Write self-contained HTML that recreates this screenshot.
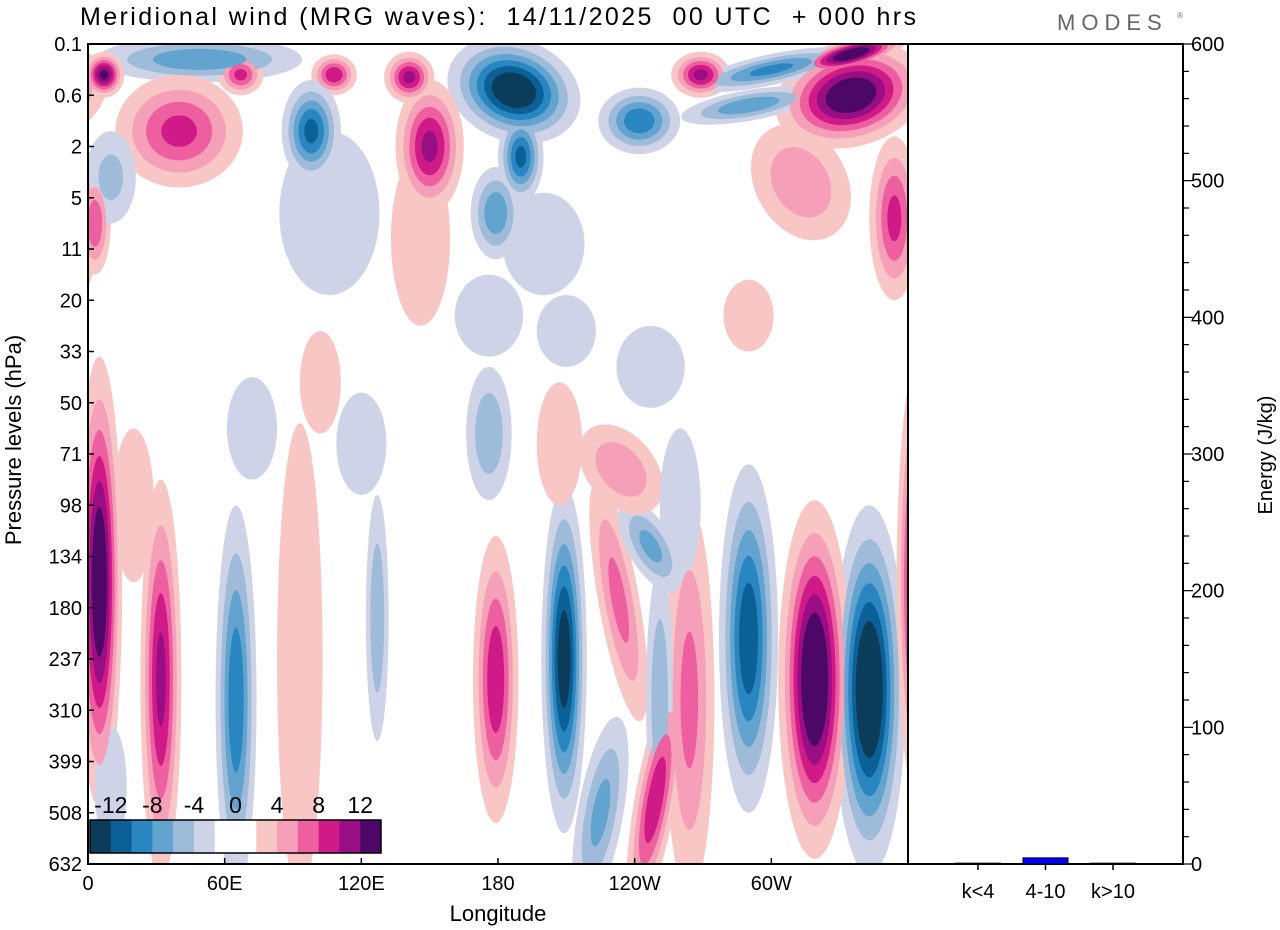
<!DOCTYPE html>
<html><head><meta charset="utf-8"><style>
body{margin:0;background:#fff;width:1280px;height:930px;overflow:hidden;font-family:"Liberation Sans",sans-serif}
svg{display:block}
</style></head><body>
<svg id="c" width="1280" height="930" font-family="Liberation Sans, sans-serif">
<text x="80" y="25" font-size="25" textLength="836" lengthAdjust="spacing" style="white-space:pre" xml:space="preserve">Meridional wind (MRG waves):  14/11/2025  00 UTC  + 000 hrs</text>
<text x="1057" y="30" font-size="22" fill="#666" letter-spacing="6">MODES</text>
<text x="1177" y="18" font-size="8" fill="#666">®</text>
<defs><clipPath id="pc"><rect x="88" y="44" width="820" height="820"/></clipPath></defs>
<g id="field" clip-path="url(#pc)"></g>
<g id="axes"></g>
</svg>
<script>
// blob data: longitude (deg), level index (0=0.1hPa .. 16=632hPa), half-width deg, half-height levels, amplitude (m/s), tilt deg
const blobLon=[343,319,290,264,249,225,233,209,179,247,251,5,32,65,93,127,
 187,49,7,67,108,141,269,335,242,98,40,150,190,179,313,354,3,10,106,146,
 176,210,247,290,102,72,176,234,207,260,20,335,300,290,200,120,10];
const blobLev=[12.6,12.4,11.6,12.8,14.75,15,10.85,12,12.4,9.8,12.8,10.5,12.4,12.8,12,11.2,
 0.9,0.3,0.6,0.6,0.6,0.65,0.6,1.0,1.5,1.7,1.7,2.0,2.2,3.3,2.7,3.4,3.5,2.6,3.3,3.8,
 5.3,5.6,6.3,5.3,6.6,7.5,7.6,8.3,7.8,9.0,9.0,0.2,0.5,1.2,3.9,7.8,14.5];
const blobW=[16,16,13,11,9,10,9,10,10,10,6,10,9,9,10,5,
 30,45,9,10,10,11,13,34,18,13,28,15,10,11,20,11,7,11,22,13,
 15,13,15,11,9,11,10,15,10,9,9,25,35,30,18,11,7];
const blobH=[3.6,3.5,3.4,3.8,2.3,1.9,2.4,3.4,2.8,1.0,2.6,4.4,3.9,3.8,4.6,2.4,
 1.0,0.45,0.45,0.4,0.4,0.5,0.45,1.0,0.65,1.0,1.1,1.3,0.9,0.9,1.2,1.6,1.0,0.9,1.6,1.7,
 0.8,0.7,0.8,0.7,1.0,1.0,1.3,1.0,1.2,1.5,1.5,0.3,0.3,0.3,1.0,1.0,1.2];
const blobAmp=[-16,16,-12,7,10,-7,7,-14,10,-7,-6,15,11,-10,3.5,-6,
 -15,-8,13,9,10,11,11,15,-10,-11,9,11,-11,-8,6,9,8,-5,-3.5,3.5,
 -3,-3,-3,3,3,-3,-6,6,3,-3,3,15,-9,-8,-3,-3,-3];
const blobTilt=[0,0,0,0,10,10,-10,0,0,-30,0,0,0,0,0,0,
 20,0,0,0,0,0,0,-15,0,0,0,0,0,0,-30,0,0,0,0,0,
 0,0,0,0,0,0,0,-40,0,0,0,-15,-12,-10,0,0,0];
const levels=[2,4,6,8,10,12];
const posCol=["#f9c6c6","#f59fb9","#ee5fa0","#cf1a88","#9a0e85","#4d0766"];
const negCol=["#cfd3e8","#9fbbda","#62a3cf","#2a86c0","#0b6197","#0b3d5a"];
const cbCols=["#0b3d5a","#0b6197","#2a86c0","#62a3cf","#9fbbda","#cfd3e8","#fff","#fff","#f9c6c6","#f59fb9","#ee5fa0","#cf1a88","#9a0e85","#4d0766"];
const cbLabels=["-12","-8","-4","0","4","8","12"];
const pLabels=["0.1","0.6","2","5","11","20","33","50","71","98","134","180","237","310","399","508","632"];
const lonLabels=["0","60E","120E","180","120W","60W"];
const lonTicks=[0,60,120,180,240,300];
const energyCats=["k<4","4-10","k>10"];
const energyVals=[0.6,4.5,0.6];
const energyTicks=[0,100,200,300,400,500,600];

const NS="http://www.w3.org/2000/svg";
const X0=88,Y0=44,PW=820,PH=820;
const xLon=l=>X0+l*PW/360;
const yLev=i=>Y0+i*PH/16;
const pxPerDeg=PW/360,pxPerLev=PH/16;
const E0=908,E1=1183;
const yE=v=>864-v*820/600;
function mk(tag,attrs,parent){const e=document.createElementNS(NS,tag);for(const k in attrs)e.setAttribute(k,attrs[k]);parent.appendChild(e);return e;}
const field=document.getElementById('field');
const axes=document.getElementById('axes');
mk('rect',{x:X0,y:Y0,width:PW,height:PH,fill:'#fff'},field);
levels.forEach((c,li)=>{
  blobLon.forEach((lon,b)=>{
    const A=blobAmp[b],a=Math.abs(A);
    if(a<=c) return;
    const f=Math.sqrt(Math.log(a/c)/Math.log(a/2));
    const cx=xLon(lon),cy=yLev(blobLev[b]);
    const rx=blobW[b]*pxPerDeg*f,ry=blobH[b]*pxPerLev*f;
    const e=mk('ellipse',{cx:cx,cy:cy,rx:rx,ry:ry,fill:A>0?posCol[li]:negCol[li],transform:'rotate('+blobTilt[b]+' '+cx+' '+cy+')'},field);
    
    
    if(lon>300){const e2=e.cloneNode();e2.setAttribute('cx',cx-PW);e2.setAttribute('transform','rotate('+blobTilt[b]+' '+(cx-PW)+' '+cy+')');field.appendChild(e2);}
    if(lon<40){const e2=e.cloneNode();e2.setAttribute('cx',cx+PW);e2.setAttribute('transform','rotate('+blobTilt[b]+' '+(cx+PW)+' '+cy+')');field.appendChild(e2);}
  });
});
let r0=mk('rect',{x:X0,y:Y0,width:PW,height:PH,fill:'none',stroke:'#000','stroke-width':2},axes);

r0=mk('rect',{x:E0,y:Y0,width:E1-E0,height:PH,fill:'none',stroke:'#000','stroke-width':2},axes);

pLabels.forEach((t,i)=>{
  const y=yLev(i);
  mk('line',{x1:X0,x2:X0+6,y1:y,y2:y,stroke:'#000','stroke-width':1.5},axes);
  const tx=mk('text',{x:X0-6,y:y+7,'font-size':20,'text-anchor':'end'},axes);tx.textContent=t;
  
  
});
lonTicks.forEach((l,i)=>{
  const x=xLon(l);
  mk('line',{x1:x,x2:x,y1:864,y2:858,stroke:'#000','stroke-width':1.5},axes);
  const tx=mk('text',{x:x,y:890,'font-size':20,'text-anchor':'middle'},axes);tx.textContent=lonLabels[i];
  
  
});
let t=mk('text',{x:498,y:921,'font-size':22,'text-anchor':'middle'},axes);t.textContent='Longitude';

t=mk('text',{x:0,y:0,'font-size':22,'text-anchor':'middle',transform:'translate(21,440) rotate(-90)'},axes);t.textContent='Pressure levels (hPa)';

t=mk('text',{x:0,y:0,'font-size':20,'text-anchor':'middle',transform:'translate(1272,455) rotate(-90)'},axes);t.textContent='Energy (J/kg)';

for(let v=0;v<=600;v+=20){const y=yE(v);mk('line',{x1:E1,x2:E1+(v%100?6:10),y1:y,y2:y,stroke:'#000','stroke-width':1.2},axes);}
energyTicks.forEach(v=>{const tx=mk('text',{x:E1+8,y:yE(v)+7,'font-size':20},axes);tx.textContent=v;
  
  });
energyCats.forEach((c,i)=>{
  const cx=978+i*67.5;
  mk('line',{x1:cx,x2:cx,y1:864,y2:870,stroke:'#000','stroke-width':1.5},axes);
  const tx=mk('text',{x:cx,y:898,'font-size':20,'text-anchor':'middle'},axes);tx.textContent=c;
  
  
  const h=Math.max(864-yE(energyVals[i]),0.5);
  const r=mk('rect',{x:cx-22.5,y:864-h,width:45,height:h,fill:i==1?'#0000ff':'#000',stroke:'#000','stroke-width':1},axes);
  
  
});
const cbX=90,cbY=820,cbW=291/14;
cbCols.forEach((c,i)=>{const r=mk('rect',{x:cbX+i*cbW,y:cbY,width:cbW+0.5,height:33,fill:c},axes);
  
  });
mk('rect',{x:cbX,y:cbY,width:291,height:33,fill:'none',stroke:'#000','stroke-width':1.5},axes);
cbLabels.forEach((s,i)=>{const tx=mk('text',{x:cbX+cbW*(1+2*i),y:cbY-7,'font-size':23,'text-anchor':'middle'},axes);
  tx.textContent=s;
  
  });
</script>
</body></html>
